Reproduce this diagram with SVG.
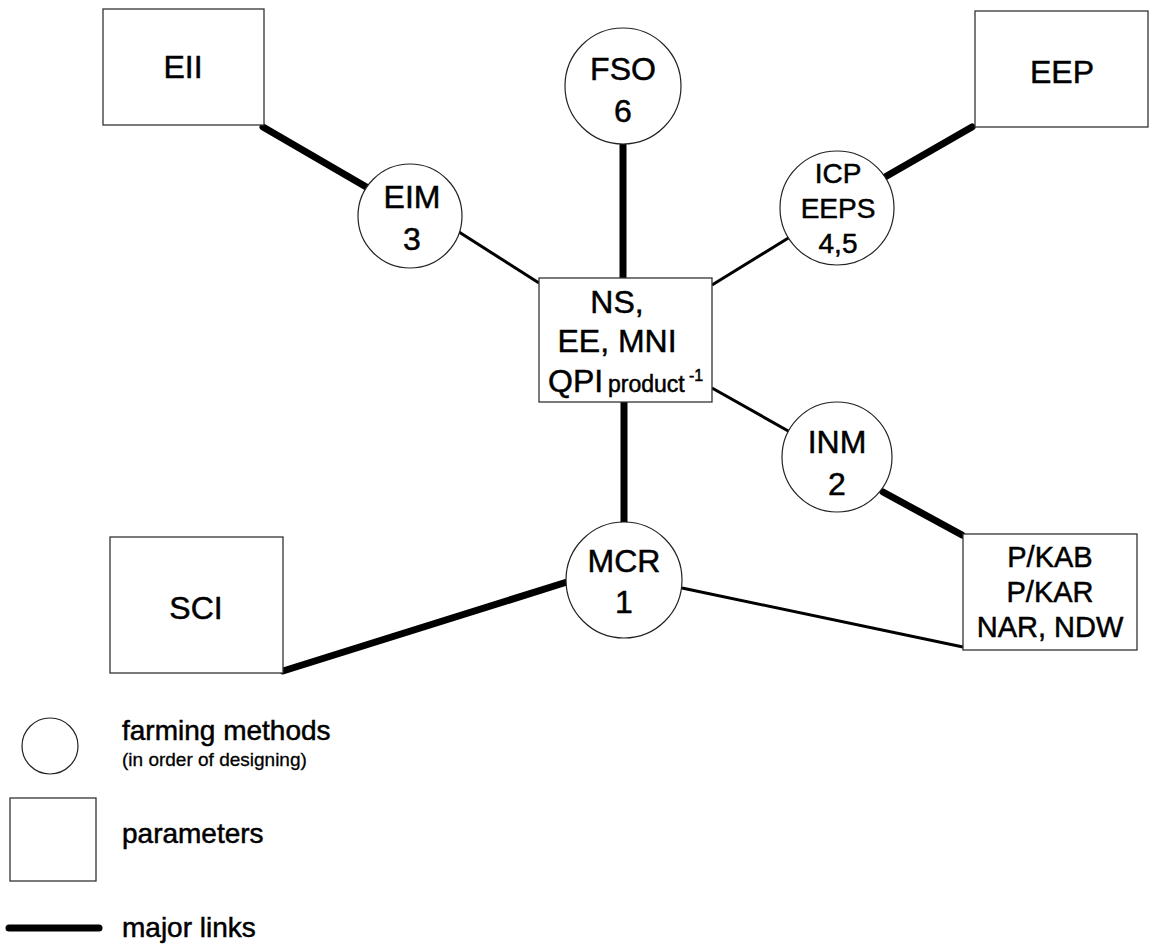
<svg xmlns="http://www.w3.org/2000/svg" width="1149" height="944" viewBox="0 0 1149 944">
  <style>
    .box { fill: #ffffff; stroke: #333333; stroke-width: 1.3; }
    .node { fill: #ffffff; stroke: #222222; stroke-width: 1.2; }
    .major { stroke: #000000; stroke-width: 7; stroke-linecap: round; fill: none; }
    .minor { stroke: #000000; stroke-width: 3; stroke-linecap: butt; fill: none; }
    text { font-family: "Liberation Sans", Arial, sans-serif; fill: #000000; stroke: #000000; stroke-width: 0.5; }
    .lbl { font-size: 32px; text-anchor: middle; }
    .lbl-s { font-size: 29px; text-anchor: middle; }
    .lbl-m { font-size: 28px; text-anchor: middle; }
    .lbl-l { font-size: 32px; text-anchor: start; }
    .sub { font-size: 23px; }
    .sup { font-size: 16px; }
    .leg { font-size: 28px; }
    .leg-small { font-size: 19px; stroke-width: 0.3; }
  </style>

  <rect width="1149" height="944" fill="#ffffff"/>

  <!-- links between methods and parameters -->
  <g id="connectors">
    <line class="major" x1="263" y1="127" x2="368" y2="188"/>
    <line class="minor" x1="459" y1="232" x2="539" y2="283"/>
    <line class="major" x1="623" y1="144" x2="623" y2="278"/>
    <line class="minor" x1="790" y1="237" x2="712" y2="285"/>
    <line class="major" x1="885" y1="177" x2="972" y2="127"/>
    <line class="minor" x1="712" y1="388" x2="790" y2="432"/>
    <line class="major" x1="883" y1="492" x2="962" y2="535"/>
    <line class="major" x1="624" y1="402" x2="624" y2="523"/>
    <line class="major" x1="283" y1="671" x2="567" y2="582"/>
    <line class="minor" x1="682" y1="588" x2="963" y2="647"/>
  </g>

  <!-- parameters -->
  <g id="eii">
    <rect class="box" x="103" y="9" width="161" height="116"/>
    <text class="lbl" x="183" y="78">EII</text>
  </g>
  <g id="eep">
    <rect class="box" x="975" y="11" width="173" height="116"/>
    <text class="lbl" x="1062" y="83">EEP</text>
  </g>
  <g id="ns-ee-mni">
    <rect class="box" x="539" y="278" width="173" height="124"/>
    <text class="lbl" x="617" y="313">NS,</text>
    <text class="lbl" x="617" y="352">EE, MNI</text>
    <text class="lbl-l" x="548" y="392">QPI<tspan class="sub" x="608" y="392">product</tspan><tspan class="sup" x="689" y="381">-1</tspan></text>
  </g>
  <g id="sci">
    <rect class="box" x="110" y="537" width="173" height="136"/>
    <text class="lbl" x="196" y="619">SCI</text>
  </g>
  <g id="pkab">
    <rect class="box" x="963" y="534" width="174" height="116"/>
    <text class="lbl-s" x="1050" y="567">P/KAB</text>
    <text class="lbl-s" x="1050" y="602">P/KAR</text>
    <text class="lbl-s" x="1050" y="637">NAR, NDW</text>
  </g>

  <!-- farming methods -->
  <g id="fso">
    <circle class="node" cx="623" cy="86" r="58"/>
    <text class="lbl" x="623" y="80">FSO</text>
    <text class="lbl" x="623" y="122">6</text>
  </g>
  <g id="eim">
    <circle class="node" cx="410" cy="216" r="52"/>
    <text class="lbl" x="412" y="208">EIM</text>
    <text class="lbl" x="412" y="250">3</text>
  </g>
  <g id="icp">
    <circle class="node" cx="837" cy="208" r="57"/>
    <text class="lbl-m" x="838" y="183">ICP</text>
    <text class="lbl-m" x="838" y="218">EEPS</text>
    <text class="lbl-m" x="838" y="253">4,5</text>
  </g>
  <g id="inm">
    <circle class="node" cx="837" cy="457" r="55"/>
    <text class="lbl" x="837" y="453">INM</text>
    <text class="lbl" x="837" y="495">2</text>
  </g>
  <g id="mcr">
    <circle class="node" cx="624" cy="580" r="58"/>
    <text class="lbl" x="624" y="572">MCR</text>
    <text class="lbl" x="624" y="613">1</text>
  </g>

  <!-- key -->
  <g id="legend">
    <circle class="node" cx="50" cy="746" r="28"/>
    <text class="leg" x="122" y="740">farming methods</text>
    <text class="leg-small" x="122" y="766">(in order of designing)</text>
    <rect class="box" x="10" y="798" width="86" height="83"/>
    <text class="leg" x="122" y="843">parameters</text>
    <line class="major" x1="9" y1="928" x2="99" y2="928"/>
    <text class="leg" x="122" y="937">major links</text>
  </g>
</svg>
